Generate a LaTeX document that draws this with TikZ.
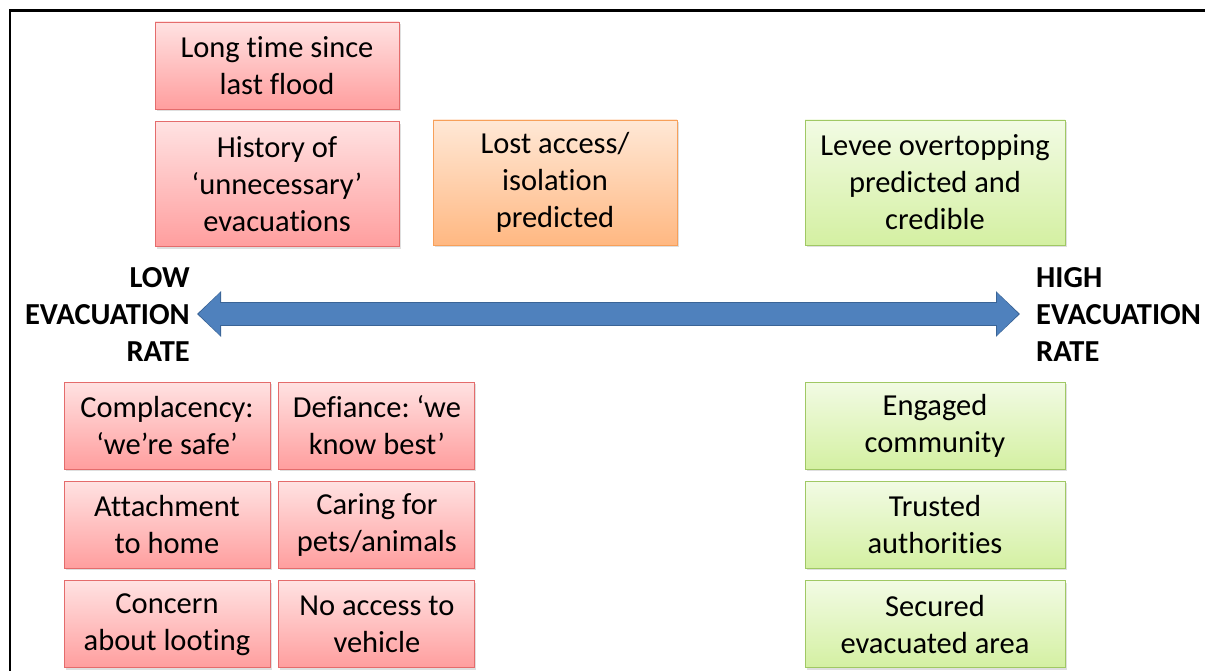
\documentclass[tikz,border=0pt]{standalone}
\usepackage{fontspec}
\setmainfont{Carlito}[Ligatures=NoCommon]
\usetikzlibrary{positioning,shadows,arrows.meta}
\frenchspacing

\definecolor{redtop}{RGB}{255,226,226}
\definecolor{redbot}{RGB}{255,158,158}
\definecolor{redline}{RGB}{228,108,108}
\definecolor{orgtop}{RGB}{255,232,214}
\definecolor{orgbot}{RGB}{255,184,130}
\definecolor{orgline}{RGB}{247,160,90}
\definecolor{grntop}{RGB}{242,251,228}
\definecolor{grnbot}{RGB}{212,240,162}
\definecolor{grnline}{RGB}{160,200,100}
\definecolor{arrowfill}{RGB}{79,129,189}
\definecolor{arrowline}{RGB}{58,100,150}

\begin{document}
\begin{tikzpicture}[x=1pt,y=-1pt,
	box/.style={draw,rectangle,align=center,inner sep=0pt,line width=0.9pt,
		font=\fontsize{30.5}{37}\selectfont,
		drop shadow={opacity=0.25,shadow xshift=1.5pt,shadow yshift=-2pt}},
	redbox/.style={box,draw=redline,top color=redtop,bottom color=redbot},
	orgbox/.style={box,draw=orgline,top color=orgtop,bottom color=orgbot},
	grnbox/.style={box,draw=grnline,top color=grntop,bottom color=grnbot},
	two/.style={minimum height=87pt},
	three/.style={minimum height=125pt},
	rate/.style={font=\fontsize{30.5}{37}\selectfont\bfseries,inner sep=0pt}]
	\useasboundingbox (0,0) rectangle (1205,671);
	\draw[line width=2.5pt] (10,671) |- (1205,10.5);

	\node[redbox,two,minimum width=244pt] (t1) at (277,65.5) {Long time since\\last flood};
	\node[redbox,three,minimum width=244pt,below=12pt of t1] (t2) {History of\\‘unnecessary’\\evacuations};
	\node[orgbox,three,minimum width=244pt] (o1) at (555,182.5) {Lost access/\\isolation\\predicted};
	\node[grnbox,three,minimum width=260pt] (g0) at (935,182.5) {Levee overtopping\\predicted and\\credible};

	\node[rate,align=right,anchor=east] (lo) at (190,314) {LOW\\EVACUATION\\RATE};
	\node[rate,align=left,anchor=west] (hi) at (1036,314) {HIGH\\EVACUATION\\RATE};
	\draw[preaction={draw=arrowline,line width=24pt,shorten <=0pt,shorten >=0pt,
			{Triangle[width=44pt,length=24pt]}-{Triangle[width=44pt,length=24pt]}},
		draw=arrowfill,line width=21.5pt,shorten <=1.5pt,shorten >=1.5pt,
		{Triangle[width=41pt,length=21.5pt]}-{Triangle[width=41pt,length=21.5pt]}]
		([xshift=7pt]lo.east) -- ([xshift=-16pt]hi.west);

	\node[redbox,two,minimum width=206pt] (l1) at (167,425.5) {Complacency:\\‘we’re safe’};
	\node[redbox,two,minimum width=206pt,below=11.5pt of l1] (l2) {Attachment\\to home};
	\node[redbox,two,minimum width=206pt,below=11.5pt of l2] (l3) {Concern\\about looting};
	\node[redbox,two,minimum width=196pt,right=8pt of l1] (l4) {Defiance: ‘we\\know best’};
	\node[redbox,two,minimum width=196pt,below=11.5pt of l4] (l5) {Caring for\\pets/animals};
	\node[redbox,two,minimum width=196pt,below=11.5pt of l5] (l6) {No access to\\vehicle};

	\node[grnbox,two,minimum width=260pt] (g1) at (935,425.5) {Engaged\\community};
	\node[grnbox,two,minimum width=260pt,below=11.5pt of g1] (g2) {Trusted\\authorities};
	\node[grnbox,two,minimum width=260pt,below=11.5pt of g2] (g3) {Secured\\evacuated area};
\end{tikzpicture}
\end{document}
